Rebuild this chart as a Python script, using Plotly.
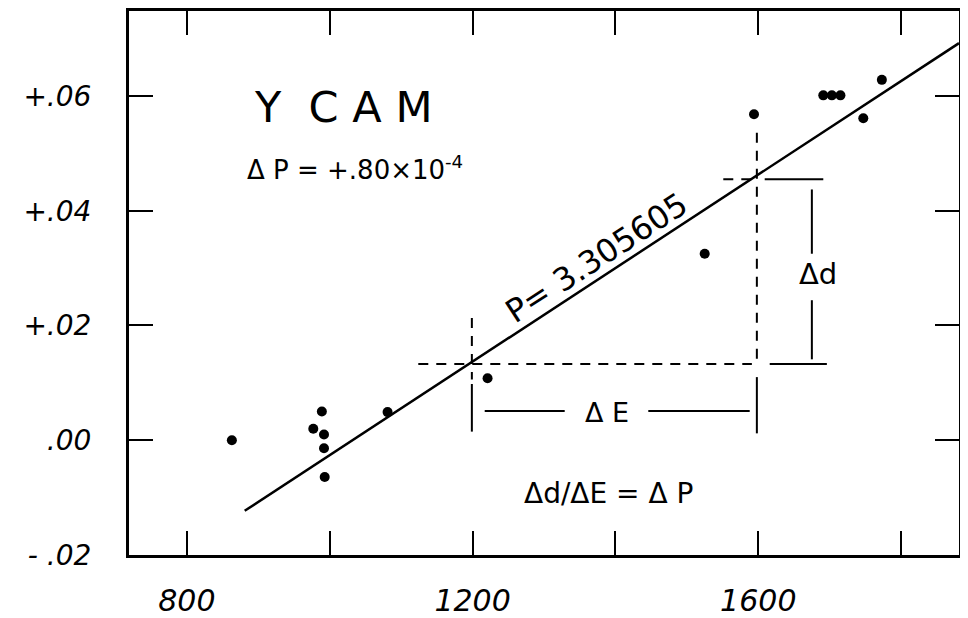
import plotly.graph_objects as go

# ---- data ----
energy = [863, 989, 977, 992, 992, 993, 1081, 1221, 1525, 1594, 1691, 1703, 1715, 1747, 1773]
shift = [0.0000, 0.0050, 0.0020, 0.0010, -0.0014, -0.0064, 0.0049, 0.0108, 0.0325,
         0.0568, 0.0601, 0.0601, 0.0601, 0.0561, 0.0628]

fit_x = [881, 1881]
fit_y = [-0.0123, 0.0692]

x_tickvals = [800, 1200, 1600]
x_ticktext = ["800", "1200", "1600"]
y_tickvals = [-0.02, 0.00, 0.02, 0.04, 0.06]
y_ticktext = ["- .02", ".00", "+.02", "+.04", "+.06"]

# construction lines (E, d) for the slope triangle
E1, E2 = 1199, 1598
d1, d2 = 0.0133, 0.0455

FONT = "DejaVu Sans"

fig = go.Figure()

fig.add_trace(go.Scatter(x=fit_x, y=fit_y, mode="lines",
                         line=dict(color="black", width=2.5), showlegend=False))
fig.add_trace(go.Scatter(x=energy, y=shift, mode="markers",
                         marker=dict(color="black", size=10), showlegend=False))

dash = dict(color="black", width=2, dash="10px,8px")
solid = dict(color="black", width=2)

def seg(x0, y0, x1, y1, line):
    fig.add_shape(type="line", x0=x0, y0=y0, x1=x1, y1=y1, xref="x", yref="y", line=line)

# horizontal dashed guides
seg(1124, d1, 1591, d1, dash)
seg(1616, d1, 1696, d1, solid)
seg(1551, d2, 1595, d2, dash)
seg(1609, d2, 1691, d2, solid)
# vertical dashed guides
seg(E1, 0.0213, E1, 0.0106, dash)
seg(E1, 0.0098, E1, 0.0015, solid)
seg(E2, 0.0536, E2, 0.0129, dash)
seg(E2, 0.0110, E2, 0.0012, solid)
# delta E bracket
seg(1217, 0.0051, 1329, 0.0051, solid)
seg(1446, 0.0051, 1588, 0.0051, solid)
# delta d bracket
seg(1675, 0.0437, 1675, 0.0325, solid)
seg(1675, 0.0244, 1675, 0.0141, solid)

def note(x, y, text, size, angle=0, xanchor="center"):
    fig.add_annotation(x=x, y=y, xref="x", yref="y", text=text, showarrow=False,
                       textangle=angle, xanchor=xanchor, yanchor="middle",
                       font=dict(family=FONT, size=size, color="black"))

note(1018, 0.0581, "Y  C A M", 43)
note(882, 0.0475, "Δ P = +.80×10<sup>-4</sup>", 26, xanchor="left")
note(1373, 0.0318, "P= 3.305605", 32, angle=-33)
note(1388, 0.0049, "Δ E", 27)
note(1684, 0.0290, "Δd", 29)
note(1390, -0.0092, "Δd/ΔE = Δ P", 28)

fig.update_xaxes(range=[719, 1881], tickvals=x_tickvals, ticktext=x_ticktext,
                 showgrid=False, zeroline=False, showline=True, linewidth=3,
                 linecolor="black", mirror="ticks", ticks="inside", ticklen=24,
                 tickwidth=2, tickcolor="black", ticklabelstandoff=17,
                 minor=dict(tick0=800, dtick=200, ticks="inside", ticklen=24,
                            tickwidth=2, tickcolor="black"),
                 tickfont=dict(family=FONT, size=30, color="black", style="italic"))
fig.update_yaxes(range=[-0.02, 0.0748], tickvals=y_tickvals, ticktext=y_ticktext,
                 showgrid=False, zeroline=False, showline=True, linewidth=3,
                 linecolor="black", mirror="ticks", ticks="inside", ticklen=24,
                 tickwidth=2, tickcolor="black", ticklabelstandoff=29,
                 tickfont=dict(family=FONT, size=28, color="black", style="italic"))

# page body carries an 8px margin, so the figure is drawn 8px smaller
fig.update_layout(width=960, height=610, margin=dict(l=121, r=9, t=0, b=60),
                  plot_bgcolor="white", paper_bgcolor="white", showlegend=False)

fig.write_html("out.html")
